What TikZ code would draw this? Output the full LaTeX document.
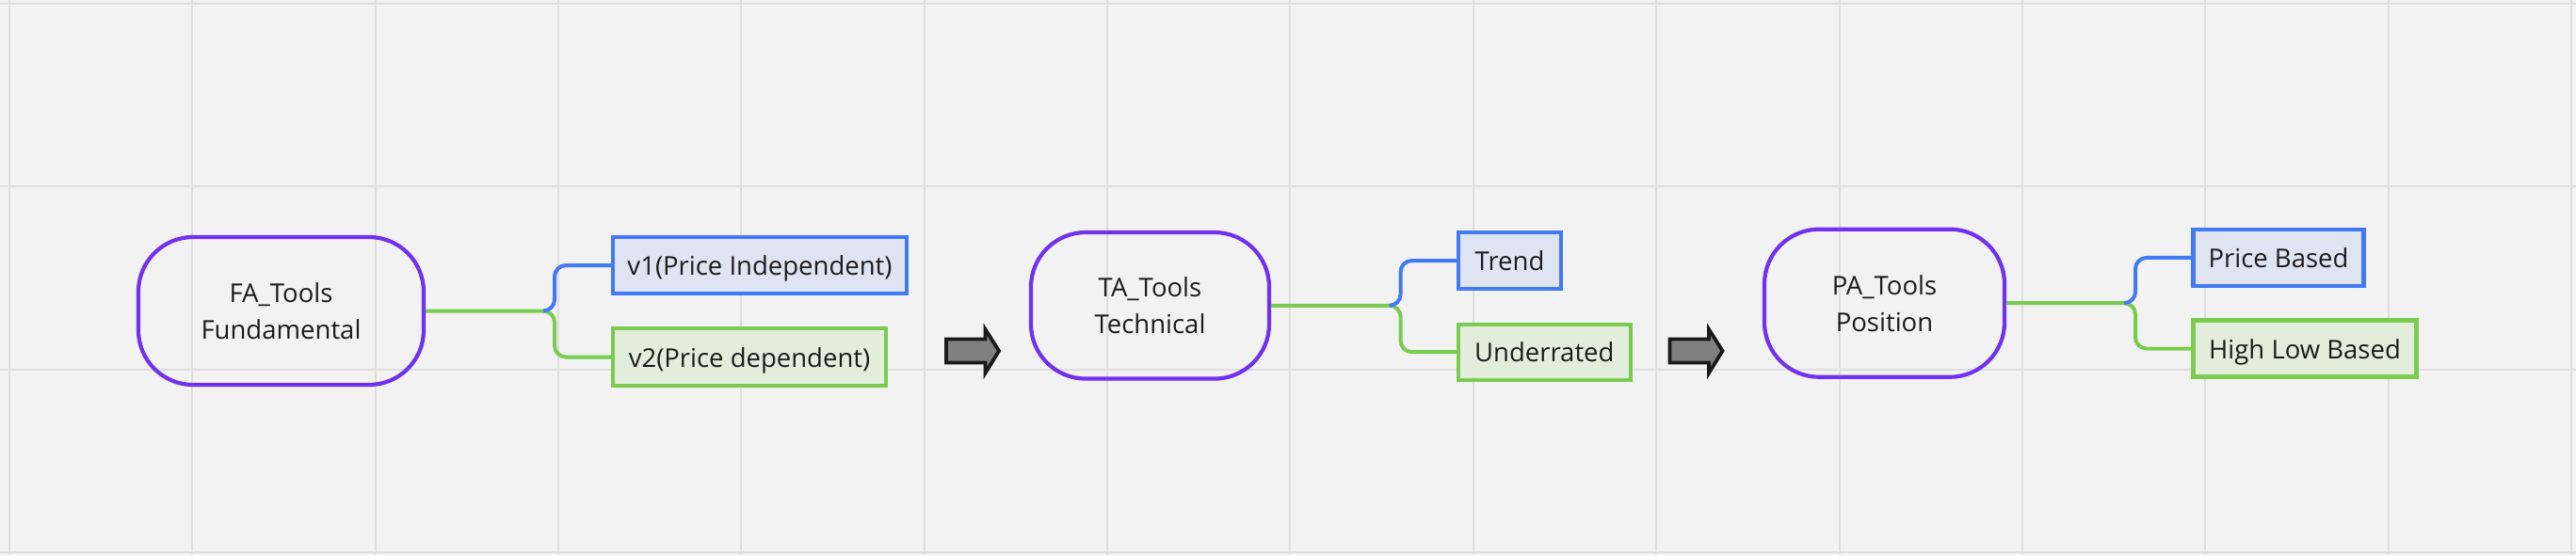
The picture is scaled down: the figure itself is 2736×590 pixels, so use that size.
\documentclass[tikz,border=0pt]{standalone}
\usepackage{fontspec}
\setmainfont{Open Sans}
\usetikzlibrary{calc}
\definecolor{bgc}{HTML}{F2F2F2}
\definecolor{gridc}{HTML}{DEDEDE}
\definecolor{purp}{HTML}{7131EE}
\definecolor{bl}{HTML}{4279F4}
\definecolor{blfill}{HTML}{DFE4F2}
\definecolor{gr}{HTML}{7ACC4F}
\definecolor{grfill}{HTML}{E2EDDB}
\definecolor{arrfill}{HTML}{808080}
\definecolor{arrline}{HTML}{1A1A1A}
\definecolor{txt}{HTML}{1C1C1C}
\tikzset{
  basefont/.style={font=\fontsize{13.75}{19.5}\selectfont, text=txt},
  mainbox/.style={basefont, draw=purp, line width=2.1pt, rounded corners=29pt, align=center, inner sep=0pt},
  bluebox/.style={basefont, draw=bl, fill=blfill, line width=2.1pt, inner sep=0pt, text height=10.5pt, text depth=0pt, minimum height=30pt},
  greenbox/.style={basefont, draw=gr, fill=grfill, line width=2.1pt, inner sep=0pt, text height=10.5pt, text depth=0pt, minimum height=30pt},
  bline/.style={draw=bl, line width=2pt, rounded corners=6pt},
  gline/.style={draw=gr, line width=2pt, rounded corners=6pt},
  gridline/.style={draw=gridc, line width=1pt},
  arrowshape/.style={fill=arrfill, draw=arrline, line width=1.9pt, line join=miter},
}
\begin{document}
\begin{tikzpicture}[x=0.5pt,y=-0.5pt]
\fill[bgc] (0,0) rectangle (2736,590);
\useasboundingbox (0,0) rectangle (2736,590);
% grid
\foreach \i in {0,...,14} \draw[gridline] ({10+194.35*\i},0) -- ({10+194.35*\i},590);
\foreach \j in {0,...,3} \draw[gridline] (0,{3.8+194.35*\j}) -- (2736,{3.8+194.35*\j});

% main nodes
\node[mainbox, minimum width=151.5pt, minimum height=78.5pt] (FA) at (298.5,330.5) {FA\_Tools\\Fundamental};
\node[mainbox, minimum width=126.5pt, minimum height=77.75pt] (TA) at (1221.5,324.8) {TA\_Tools\\Technical};
\node[mainbox, minimum width=127.5pt, minimum height=78.5pt] (PA) at (2001.5,322.2) {PA\_Tools\\Position};

% children
\node[bluebox, minimum width=156pt] (v1) at (807,282) {v1(Price Independent)};
\node[greenbox, minimum width=145pt, minimum height=30.5pt] (v2) at (796,379.5) {v2(Price dependent)};
\node[bluebox, minimum width=54.5pt] (trend) at (1603.5,277) {Trend};
\node[greenbox, minimum width=91.3pt, minimum height=29.5pt] (under) at (1640.3,374.2) {Underrated};
\node[bluebox, minimum width=90.5pt] (pb) at (2420,273.9) {Price Based};
\node[greenbox, minimum width=118.5pt] (hl) at (2448,370.5) {High Low Based};

% junction coordinates
\coordinate (j1) at (589,0);
\coordinate (j2) at (1487.6,0);
\coordinate (j3) at (2268,0);

% connectors
\draw[gline] (FA.east) -| (j1 |- v2.west) -- (v2.west);
\draw[bline] ($(FA.east -| j1)+(-12,0)$) -| (j1 |- v1.west) -- (v1.west);
\draw[gline] (TA.east) -| (j2 |- under.west) -- (under.west);
\draw[bline] ($(TA.east -| j2)+(-12,0)$) -| (j2 |- trend.west) -- (trend.west);
\draw[gline] (PA.east) -| (j3 |- hl.west) -- (hl.west);
\draw[bline] ($(PA.east -| j3)+(-12,0)$) -| (j3 |- pb.west) -- (pb.west);

% block arrows between groups
\foreach \dx in {0,768.5}
  \draw[arrowshape] ({1005+\dx},360.5) -- ({1046.5+\dx},360.5) -- ({1046.5+\dx},350)
     -- ({1061+\dx},373) -- ({1046.5+\dx},396.5) -- ({1046.5+\dx},385.5)
     -- ({1005+\dx},385.5) -- cycle;
\end{tikzpicture}
\end{document}
